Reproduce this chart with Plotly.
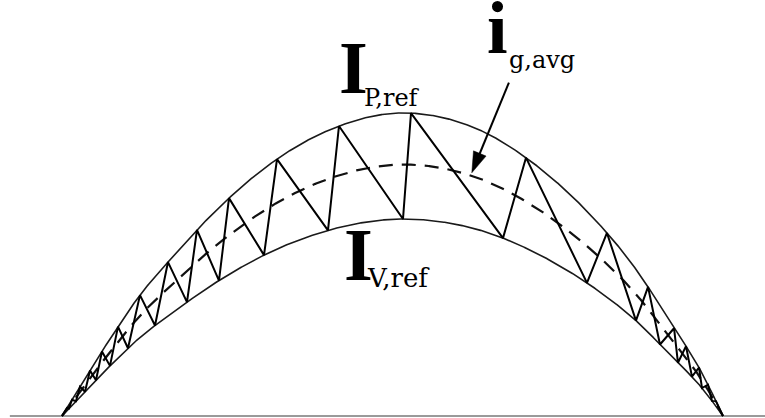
import numpy as np
import plotly.graph_objects as go

# Peak-current reference envelope over one half line cycle
# (phase in electrical degrees, level in per-unit of the crest value)
peak_ref_phase = [0.0, 14.98, 21.24, 28.87, 36.76, 45.48, 58.55, 75.43, 92.04,
                  102.93, 115.46, 126.08, 148.41, 159.59, 165.57, 173.1, 180.0]
peak_ref_level = [0.0, 0.290, 0.399, 0.508, 0.614, 0.719, 0.848, 0.957, 1.000,
                  0.987, 0.934, 0.855, 0.604, 0.426, 0.310, 0.168, 0.0]

valley_ratio = 0.65    # I_V,ref relative to I_P,ref
average_ratio = 0.83   # i_g,avg relative to I_P,ref

# Instants (degrees) at which the switch current reaches each reference
peak_instants = [1.36, 2.72, 4.90, 7.63, 10.89, 15.25, 21.24, 28.87, 36.76, 45.48,
                 58.55, 75.43, 95.04, 126.35, 148.40, 159.59, 166.67, 169.93,
                 173.47, 175.92, 178.09]
valley_instants = [1.91, 3.81, 6.26, 9.26, 13.07, 17.97, 25.33, 34.04, 42.75, 55.01,
                   72.43, 92.86, 120.09, 142.96, 156.30, 162.84, 167.74, 171.55,
                   174.28, 177.00]

# Pointer for the average-current label (phase where it touches the dashed curve)
pointer_phase = 111.6
pointer_tail = (121.7, 1.10)


def natural_spline(xk, yk, xs):
    xk = np.asarray(xk, float)
    yk = np.asarray(yk, float)
    n = len(xk)
    h = np.diff(xk)
    A = np.zeros((n, n))
    b = np.zeros(n)
    A[0, 0] = 1.0
    A[-1, -1] = 1.0
    for i in range(1, n - 1):
        A[i, i - 1] = h[i - 1]
        A[i, i] = 2.0 * (h[i - 1] + h[i])
        A[i, i + 1] = h[i]
        b[i] = 3.0 * ((yk[i + 1] - yk[i]) / h[i] - (yk[i] - yk[i - 1]) / h[i - 1])
    c = np.linalg.solve(A, b)
    bb = (yk[1:] - yk[:-1]) / h - h * (2.0 * c[:-1] + c[1:]) / 3.0
    d = (c[1:] - c[:-1]) / (3.0 * h)
    xs = np.asarray(xs, float)
    idx = np.clip(np.searchsorted(xk, xs, side="right") - 1, 0, n - 2)
    t = xs - xk[idx]
    return yk[idx] + bb[idx] * t + c[idx] * t ** 2 + d[idx] * t ** 3


def i_peak(theta):
    return natural_spline(peak_ref_phase, peak_ref_level, theta)


def i_valley(theta):
    return valley_ratio * i_peak(theta)


def i_avg(theta):
    return average_ratio * i_peak(theta)


theta = np.linspace(0.0, 180.0, 901)

# Triangular switch current bouncing between the two references
events = sorted([(t, "P") for t in peak_instants] + [(t, "V") for t in valley_instants])
saw_x = [0.0]
saw_y = [0.0]
for t, kind in events:
    saw_x.append(t)
    saw_y.append(float(i_peak(t)) if kind == "P" else float(i_valley(t)))
saw_x.append(180.0)
saw_y.append(0.0)

fig = go.Figure()

fig.add_trace(go.Scatter(x=theta, y=i_peak(theta), mode="lines",
                         line=dict(color="#1a1a1a", width=1.6), hoverinfo="skip"))
fig.add_trace(go.Scatter(x=theta, y=i_valley(theta), mode="lines",
                         line=dict(color="#1a1a1a", width=1.6), hoverinfo="skip"))
fig.add_trace(go.Scatter(x=theta, y=i_avg(theta), mode="lines",
                         line=dict(color="#111111", width=2.2, dash="14px,9px"),
                         hoverinfo="skip"))
fig.add_trace(go.Scatter(x=saw_x, y=saw_y, mode="lines",
                         line=dict(color="black", width=2), hoverinfo="skip"))

# Arrow from the i_g,avg label down to the dashed average curve
tip_y = float(i_avg(pointer_phase)) + 0.01
fig.add_trace(go.Scatter(
    x=[pointer_tail[0], pointer_phase], y=[pointer_tail[1], tip_y],
    mode="lines+markers",
    line=dict(color="black", width=2),
    marker=dict(symbol="arrow", size=[0, 22], angleref="previous",
                color="black", opacity=1, line=dict(width=0.5, color="black")),
    hoverinfo="skip"))

fig.add_shape(type="line", xref="x", yref="y", x0=-14.2, x1=200, y0=0, y1=0,
              line=dict(color="#9a9a9a", width=2), layer="below")

big = dict(family="Liberation Serif", size=74, color="black")
small = dict(family="DejaVu Serif", size=24, color="black")
small_v = dict(family="DejaVu Serif", size=26, color="black")


def label(text, x, y, font):
    fig.add_annotation(text=text, xref="paper", yref="paper", x=x, y=y,
                       xanchor="left", yanchor="top", showarrow=False, font=font)


label("<b>I</b>", 0.4405, 0.9402, big)
label("P,ref", 0.4732, 0.8038, small)
label("<b>I</b>", 0.4471, 0.4928, big)
label("V,ref", 0.4771, 0.3756, small_v)
label("<b>i</b>", 0.6340, 1.0359, big)
label("g,avg", 0.6627, 0.8947, small)

fig.update_layout(
    width=765, height=418, autosize=False,
    margin=dict(l=0, r=0, t=0, b=0),
    paper_bgcolor="white", plot_bgcolor="white",
    showlegend=False,
    xaxis=dict(range=[-16.88, 191.44], visible=False, fixedrange=True),
    yaxis=dict(range=[-0.0066, 1.3729], visible=False, fixedrange=True),
)

fig.write_html("out.html")
